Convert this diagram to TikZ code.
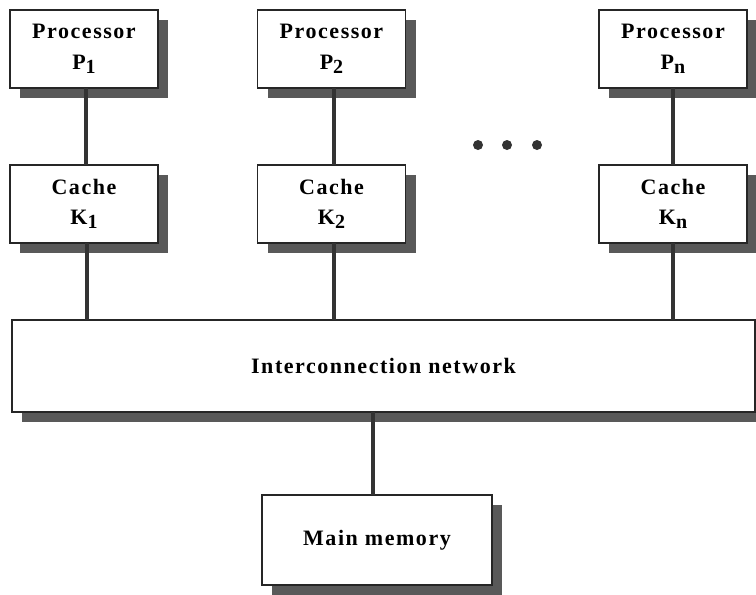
\documentclass[tikz,border=0pt]{standalone}
\usepackage{fontspec}
\setmainfont{Liberation Serif}
\newfontfamily\boxfont{Liberation Serif}[LetterSpace=7]
\usetikzlibrary{shadows}
\newcommand{\lowidx}[1]{\raisebox{-0.4ex}{\fontsize{15}{15}\selectfont #1}}
\tikzset{
  unit/.style={draw=black!85,line width=1.2pt,fill=white,inner sep=0pt,outer sep=0pt,
    align=center,font=\boxfont\bfseries\fontsize{16.5}{23}\selectfont,
    drop shadow={shadow xshift=7.5pt,shadow yshift=-7.5pt,fill=black!65,opacity=1}},
  box/.style={unit,minimum width=111pt,minimum height=58.5pt},
  wire/.style={draw=black!80,line width=3pt},
  dot/.style={circle,fill=black!80,inner sep=0pt,minimum size=7.5pt}
}
\begin{document}
\begin{tikzpicture}[x=0.75pt,y=-0.75pt]
        \useasboundingbox (0,0) rectangle (756,594);
        \draw (84,49) node[box](p1){Processor\\P\lowidx{1}};
        \draw (331.5,49) node[box](p2){Processor\\P\lowidx{2}};
        \draw (673,49) node[box](pn){Processor\\P\lowidx{n}};
        \draw (84,204) node[box](k1){Cache\\K\lowidx{1}};
        \draw (331.5,204) node[box](k2){Cache\\K\lowidx{2}};
        \draw (673,204) node[box](kn){Cache\\K\lowidx{n}};
        \draw (383.5,366) node[unit,minimum width=557pt,minimum height=69pt](net){Interconnection network};
        \draw (377,540) node[unit,minimum width=172.5pt,minimum height=67.5pt](mem){Main memory};
        \draw (478,145) node[dot](d1){};
        \draw (507,145) node[dot](d2){};
        \draw (537,145) node[dot](d3){};
        \draw[wire]
          ([xshift=1.5pt]p1.south) -- ([xshift=1.5pt]k1.north)
          ([xshift=1.5pt]p2.south) -- ([xshift=1.5pt]k2.north)
          (pn.south) -- (kn.north)
          ([xshift=2pt]k1.south) -- ([xshift=2pt]k1.south |- net.north)
          ([xshift=1.5pt]k2.south) -- ([xshift=1.5pt]k2.south |- net.north)
          (kn.south) -- (kn.south |- net.north)
          ([xshift=-3pt]mem.north) -- ([xshift=-3pt]mem.north |- net.south)
        ;
      \end{tikzpicture}
\end{document}
